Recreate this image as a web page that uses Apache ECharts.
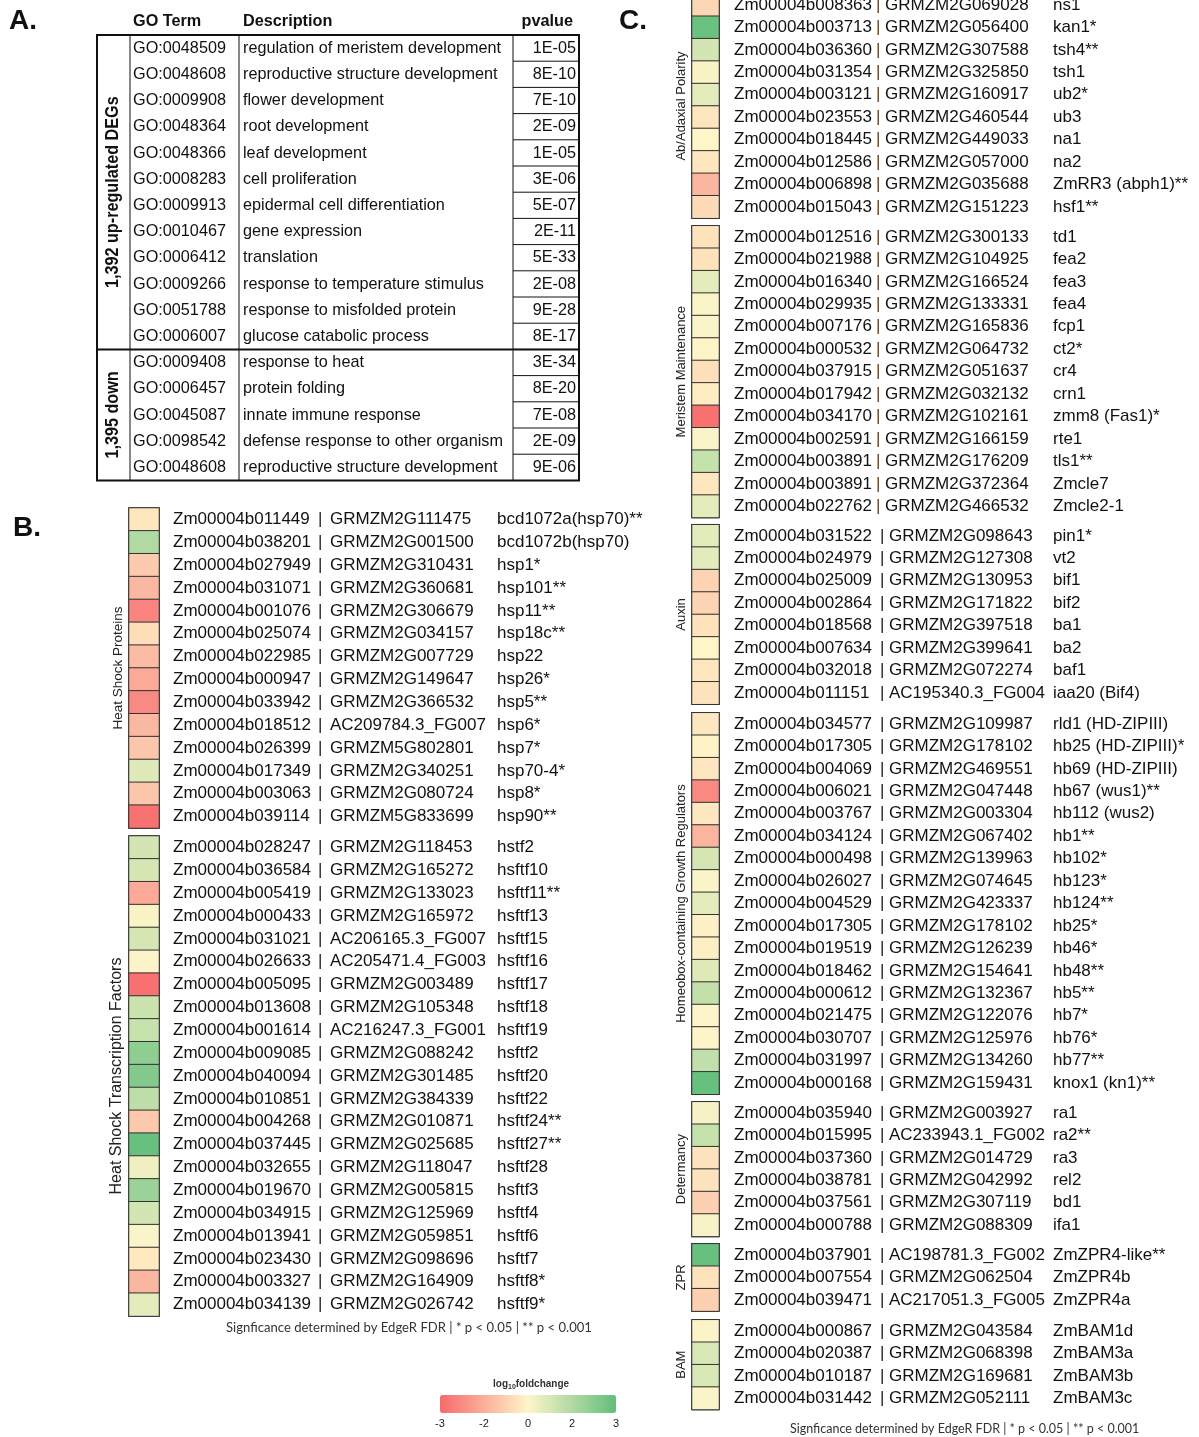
<!DOCTYPE html>
<html>
<head>
<meta charset="utf-8">
<title>GO terms and heat map of maize gene expression</title>
<script src="https://cdn.jsdelivr.net/npm/echarts@6/dist/echarts.min.js"></script>
<style>
  html, body { margin: 0; padding: 0; background: #fff; }
  #chart { width: 1199px; height: 1437px; }
</style>
</head>
<body>
<div id="chart"></div>
<script>
// ---- Panel A: GO enrichment table ----
const goTerms = [
  "GO:0048509", "GO:0048608", "GO:0009908", "GO:0048364", "GO:0048366", "GO:0008283",
  "GO:0009913", "GO:0010467", "GO:0006412", "GO:0009266", "GO:0051788", "GO:0006007",
  "GO:0009408", "GO:0006457", "GO:0045087", "GO:0098542", "GO:0048608",
];
const goDescriptions = [
  "regulation of meristem development", "reproductive structure development", "flower development",
  "root development", "leaf development", "cell proliferation", "epidermal cell differentiation",
  "gene expression", "translation", "response to temperature stimulus", "response to misfolded protein",
  "glucose catabolic process", "response to heat", "protein folding", "innate immune response",
  "defense response to other organism", "reproductive structure development",
];
const goPvalues = [
  "1E-05", "8E-10", "7E-10", "2E-09", "1E-05", "3E-06", "5E-07", "2E-11", "5E-33",
  "2E-08", "9E-28", "8E-17", "3E-34", "8E-20", "7E-08", "2E-09", "9E-06",
];
const goGroups = [["1,392 up-regulated DEGs", 12], ["1,395 down", 5]];

// ---- Panel B: heat shock genes [id, locus, name, log10 fold change] ----
const hspRows = [
  ["Zm00004b011449", "GRMZM2G111475", "bcd1072a(hsp70)**", -0.35],
  ["Zm00004b038201", "GRMZM2G001500", "bcd1072b(hsp70)", 1.5],
  ["Zm00004b027949", "GRMZM2G310431", "hsp1*", -0.9],
  ["Zm00004b031071", "GRMZM2G360681", "hsp101**", -1.3],
  ["Zm00004b001076", "GRMZM2G306679", "hsp11**", -2.4],
  ["Zm00004b025074", "GRMZM2G034157", "hsp18c**", -0.5],
  ["Zm00004b022985", "GRMZM2G007729", "hsp22", -1.25],
  ["Zm00004b000947", "GRMZM2G149647", "hsp26*", -1.6],
  ["Zm00004b033942", "GRMZM2G366532", "hsp5**", -2.3],
  ["Zm00004b018512", "AC209784.3_FG007", "hsp6*", -1.3],
  ["Zm00004b026399", "GRMZM5G802801", "hsp7*", -1.0],
  ["Zm00004b017349", "GRMZM2G340251", "hsp70-4*", 0.6],
  ["Zm00004b003063", "GRMZM2G080724", "hsp8*", -1.0],
  ["Zm00004b039114", "GRMZM5G833699", "hsp90**", -2.8],
];
const hsfRows = [
  ["Zm00004b028247", "GRMZM2G118453", "hstf2", 0.85],
  ["Zm00004b036584", "GRMZM2G165272", "hsftf10", 0.8],
  ["Zm00004b005419", "GRMZM2G133023", "hsftf11**", -1.6],
  ["Zm00004b000433", "GRMZM2G165972", "hsftf13", 0.1],
  ["Zm00004b031021", "AC206165.3_FG007", "hsftf15", 0.8],
  ["Zm00004b026633", "AC205471.4_FG003", "hsftf16", 0.03],
  ["Zm00004b005095", "GRMZM2G003489", "hsftf17", -2.85],
  ["Zm00004b013608", "GRMZM2G105348", "hsftf18", 1.0],
  ["Zm00004b001614", "AC216247.3_FG001", "hsftf19", 1.05],
  ["Zm00004b009085", "GRMZM2G088242", "hsftf2", 2.15],
  ["Zm00004b040094", "GRMZM2G301485", "hsftf20", 2.4],
  ["Zm00004b010851", "GRMZM2G384339", "hsftf22", 1.25],
  ["Zm00004b004268", "GRMZM2G010871", "hsftf24**", -0.95],
  ["Zm00004b037445", "GRMZM2G025685", "hsftf27**", 2.9],
  ["Zm00004b032655", "GRMZM2G118047", "hsftf28", 0.3],
  ["Zm00004b019670", "GRMZM2G005815", "hsftf3", 1.9],
  ["Zm00004b034915", "GRMZM2G125969", "hsftf4", 0.85],
  ["Zm00004b013941", "GRMZM2G059851", "hsftf6", 0.05],
  ["Zm00004b023430", "GRMZM2G098696", "hsftf7", -0.25],
  ["Zm00004b003327", "GRMZM2G164909", "hsftf8*", -1.35],
  ["Zm00004b034139", "GRMZM2G026742", "hsftf9*", 0.5],
];

// ---- Panel C: developmental regulators ----
const polarityRows = [
  ["Zm00004b008363", "GRMZM2G069028", "ns1", -0.65],
  ["Zm00004b003713", "GRMZM2G056400", "kan1*", 2.85],
  ["Zm00004b036360", "GRMZM2G307588", "tsh4**", 0.85],
  ["Zm00004b031354", "GRMZM2G325850", "tsh1", 0.1],
  ["Zm00004b003121", "GRMZM2G160917", "ub2*", 0.5],
  ["Zm00004b023553", "GRMZM2G460544", "ub3", -0.35],
  ["Zm00004b018445", "GRMZM2G449033", "na1", 0.0],
  ["Zm00004b012586", "GRMZM2G057000", "na2", -0.35],
  ["Zm00004b006898", "GRMZM2G035688", "ZmRR3 (abph1)**", -1.35],
  ["Zm00004b015043", "GRMZM2G151223", "hsf1**", -0.55],
];
const meristemRows = [
  ["Zm00004b012516", "GRMZM2G300133", "td1", -0.4],
  ["Zm00004b021988", "GRMZM2G104925", "fea2", -0.4],
  ["Zm00004b016340", "GRMZM2G166524", "fea3", 0.5],
  ["Zm00004b029935", "GRMZM2G133331", "fea4", 0.05],
  ["Zm00004b007176", "GRMZM2G165836", "fcp1", 0.05],
  ["Zm00004b000532", "GRMZM2G064732", "ct2*", 0.02],
  ["Zm00004b037915", "GRMZM2G051637", "cr4", -0.45],
  ["Zm00004b017942", "GRMZM2G032132", "crn1", -0.2],
  ["Zm00004b034170", "GRMZM2G102161", "zmm8 (Fas1)*", -2.85],
  ["Zm00004b002591", "GRMZM2G166159", "rte1", 0.05],
  ["Zm00004b003891", "GRMZM2G176209", "tls1**", 1.1],
  ["Zm00004b003891", "GRMZM2G372364", "Zmcle7", -0.35],
  ["Zm00004b022762", "GRMZM2G466532", "Zmcle2-1", 0.5],
];
const auxinRows = [
  ["Zm00004b031522", "GRMZM2G098643", "pin1*", 0.55],
  ["Zm00004b024979", "GRMZM2G127308", "vt2", 0.55],
  ["Zm00004b025009", "GRMZM2G130953", "bif1", -0.7],
  ["Zm00004b002864", "GRMZM2G171822", "bif2", -0.7],
  ["Zm00004b018568", "GRMZM2G397518", "ba1", -0.4],
  ["Zm00004b007634", "GRMZM2G399641", "ba2", 0.0],
  ["Zm00004b032018", "GRMZM2G072274", "baf1", -0.35],
  ["Zm00004b011151", "AC195340.3_FG004", "iaa20 (Bif4)", -0.38],
];
const homeoboxRows = [
  ["Zm00004b034577", "GRMZM2G109987", "rld1 (HD-ZIPIII)", -0.3],
  ["Zm00004b017305", "GRMZM2G178102", "hb25 (HD-ZIPIII)*", -0.05],
  ["Zm00004b004069", "GRMZM2G469551", "hb69 (HD-ZIPIII)", -0.32],
  ["Zm00004b006021", "GRMZM2G047448", "hb67 (wus1)**", -2.3],
  ["Zm00004b003767", "GRMZM2G003304", "hb112 (wus2)", -0.3],
  ["Zm00004b034124", "GRMZM2G067402", "hb1**", -1.4],
  ["Zm00004b000498", "GRMZM2G139963", "hb102*", 0.8],
  ["Zm00004b026027", "GRMZM2G074645", "hb123*", 0.05],
  ["Zm00004b004529", "GRMZM2G423337", "hb124**", 0.5],
  ["Zm00004b017305", "GRMZM2G178102", "hb25*", -0.1],
  ["Zm00004b019519", "GRMZM2G126239", "hb46*", -0.15],
  ["Zm00004b018462", "GRMZM2G154641", "hb48**", 0.6],
  ["Zm00004b000612", "GRMZM2G132367", "hb5**", 1.15],
  ["Zm00004b021475", "GRMZM2G122076", "hb7*", 0.01],
  ["Zm00004b030707", "GRMZM2G125976", "hb76*", 0.01],
  ["Zm00004b031997", "GRMZM2G134260", "hb77**", 1.2],
  ["Zm00004b000168", "GRMZM2G159431", "knox1 (kn1)**", 2.9],
];
const determancyRows = [
  ["Zm00004b035940", "GRMZM2G003927", "ra1", 0.15],
  ["Zm00004b015995", "AC233943.1_FG002", "ra2**", 1.1],
  ["Zm00004b037360", "GRMZM2G014729", "ra3", -0.38],
  ["Zm00004b038781", "GRMZM2G042992", "rel2", -0.38],
  ["Zm00004b037561", "GRMZM2G307119", "bd1", -0.8],
  ["Zm00004b000788", "GRMZM2G088309", "ifa1", 0.12],
];
const zprRows = [
  ["Zm00004b037901", "AC198781.3_FG002", "ZmZPR4-like**", 2.9],
  ["Zm00004b007554", "GRMZM2G062504", "ZmZPR4b", -0.4],
  ["Zm00004b039471", "AC217051.3_FG005", "ZmZPR4a", -0.8],
];
const bamRows = [
  ["Zm00004b000867", "GRMZM2G043584", "ZmBAM1d", 0.05],
  ["Zm00004b020387", "GRMZM2G068398", "ZmBAM3a", 0.75],
  ["Zm00004b010187", "GRMZM2G169681", "ZmBAM3b", 0.75],
  ["Zm00004b031442", "GRMZM2G052111", "ZmBAM3c", 0.05],
];

const legendTicks = ["-3", "-2", "0", "2", "3"];
const footnote = "Signficance determined by EdgeR FDR | * p < 0.05 | ** p < 0.001";

const ink = "#111";
const geneFont = "'Liberation Sans', Arial, sans-serif";
const tableFont = "'Liberation Sans', Arial, sans-serif";

const chart = echarts.init(document.getElementById("chart"));
const grids = [];
const xAxes = [];
const yAxes = [];
const series = [];

// one heat map column with its labels
function addHeatmap(rows, name, box) {
  const gi = grids.length;
  const names = rows.map((r) => r[2]);
  grids.push({
    left: box.left,
    top: box.top,
    width: box.width,
    height: rows.length * box.rowH,
    outerBoundsMode: "none",
    show: true,
    borderColor: "#222",
    borderWidth: 1.5,
  });
  xAxes.push({ type: "category", gridIndex: gi, data: ["fc"], show: false });
  // every token left aligned: a centred token would float the rest of the line
  const txt = { fontSize: 17, fontFamily: geneFont, color: ink, align: "left" };
  yAxes.push({
    type: "category",
    gridIndex: gi,
    data: names,
    inverse: true,
    position: "right",
    axisLine: { show: false },
    axisTick: { show: false },
    axisLabel: {
      interval: 0,
      margin: box.margin,
      fontSize: 17,
      formatter: (v, i) => `{id|${rows[i][0]}}{p||}{g|${rows[i][1]}}{n|${rows[i][2]}}`,
      rich: {
        id: { ...txt, width: box.idW },
        p: { ...txt, width: box.pW, color: box.pipeColor },
        g: { ...txt, width: box.gW },
        n: { ...txt },
      },
    },
  });
  yAxes.push({
    type: "category",
    gridIndex: gi,
    data: names,
    inverse: true,
    position: "left",
    axisLine: { show: false },
    axisTick: { show: false },
    axisLabel: { show: false },
    name: name,
    nameLocation: "middle",
    nameRotate: 90,
    nameGap: box.nameGap,
    nameTextStyle: { fontSize: box.nameSize, fontFamily: geneFont, color: "#222" },
  });
  series.push({
    type: "heatmap",
    xAxisIndex: gi,
    yAxisIndex: yAxes.length - 2,
    data: rows.map((r, i) => [0, i, r[3]]),
    itemStyle: { borderColor: "#333", borderWidth: 1 },
    emphasis: { disabled: true },
  });
}

// Panel B
const boxB = { left: 129, width: 30, rowH: 22.86, margin: 14, idW: 145, pW: 12, gW: 167, pipeColor: "#223", nameGap: 4 };
addHeatmap(hspRows, "Heat Shock Proteins", { ...boxB, top: 508, nameSize: 13.5 });
addHeatmap(hsfRows, "Heat Shock Transcription Factors", { ...boxB, top: 836, nameSize: 16 });

// Panel C
const boxC = { left: 692, width: 27, rowH: 22.44, margin: 15, idW: 142, pW: 9, gW: 168, pipeColor: "#6b3f12", nameGap: 4, nameSize: 13 };
const boxC2 = { ...boxC, idW: 146, pW: 9, gW: 164, pipeColor: "#222" };
addHeatmap(polarityRows, "Ab/Adaxial Polarity", { ...boxC, top: -6.2 });
addHeatmap(meristemRows, "Meristem Maintenance", { ...boxC, top: 225.8 });
addHeatmap(auxinRows, "Auxin", { ...boxC2, top: 524.7 });
addHeatmap(homeoboxRows, "Homeobox-containing Growth Regulators", { ...boxC2, top: 712.8 });
addHeatmap(determancyRows, "Determancy", { ...boxC2, top: 1101.8 });
addHeatmap(zprRows, "ZPR", { ...boxC2, top: 1243.8 });
addHeatmap(bamRows, "BAM", { ...boxC2, top: 1319.8 });

// tick labels under the colour legend
const tickGrid = grids.length;
grids.push({ left: 440, top: 1413, width: 176, height: 1, outerBoundsMode: "none" });
xAxes.push({
  type: "category",
  gridIndex: tickGrid,
  data: legendTicks,
  boundaryGap: false,
  axisLine: { show: false },
  axisTick: { show: false },
  axisLabel: { margin: 4, fontSize: 11, fontFamily: geneFont, color: "#222", interval: 0 },
});
yAxes.push({ type: "value", gridIndex: tickGrid, show: false });

// Panel A table drawn as graphic elements
const tbl = { left: 97, right: 579, top: 35, rowH: 26.2, cols: [130, 239, 513] };
const tblBottom = tbl.top + goTerms.length * tbl.rowH;
const graphics = [];

// the original uses a condensed face, so squeeze the text a little
function tableText(text, x, y, align, size, bold, rot, squeeze) {
  graphics.push({
    type: "text",
    x: x,
    y: y,
    rotation: rot || 0,
    scaleX: squeeze || 0.955,
    style: {
      text: text,
      fontSize: size,
      fontFamily: tableFont,
      fontWeight: bold ? "bold" : "normal",
      fill: ink,
      align: align,
      textAlign: align,
      verticalAlign: "middle",
      textVerticalAlign: "middle",
    },
  });
}
function tableLine(x1, y1, x2, y2, w) {
  graphics.push({ type: "line", shape: { x1, y1, x2, y2 }, style: { stroke: ink, lineWidth: w } });
}

tableText("GO Term", 133, 21, "left", 17, true);
tableText("Description", 243, 21, "left", 17, true);
tableText("pvalue", 573, 21, "right", 17, true);

goTerms.forEach((term, i) => {
  const y = tbl.top + (i + 0.5) * tbl.rowH;
  tableText(term, 133, y, "left", 17);
  tableText(goDescriptions[i], 243, y, "left", 17);
  tableText(goPvalues[i], 576, y, "right", 17);
  if (i > 0) tableLine(tbl.cols[2], tbl.top + i * tbl.rowH, tbl.right, tbl.top + i * tbl.rowH, 1);
});
tbl.cols.forEach((x) => tableLine(x, tbl.top, x, tblBottom, 1));

let start = 0;
goGroups.forEach(([label, count], gi) => {
  const yMid = tbl.top + (start + count / 2) * tbl.rowH;
  tableText(label, 113.5, yMid, "center", 18, true, Math.PI / 2, 0.9);
  start += count;
  if (gi < goGroups.length - 1) {
    tableLine(tbl.left, tbl.top + start * tbl.rowH, tbl.right, tbl.top + start * tbl.rowH, 2);
  }
});
graphics.push({
  type: "rect",
  shape: { x: tbl.left, y: tbl.top, width: tbl.right - tbl.left, height: tblBottom - tbl.top },
  style: { fill: "none", stroke: ink, lineWidth: 2 },
});

const panelLabel = { fontSize: 28, fontWeight: "bold", fontFamily: geneFont, color: ink };
const noteStyle = { fontSize: 12.5, fontWeight: "normal", fontFamily: "Lato, 'Open Sans', sans-serif", color: "#333" };

const option = {
  animation: false,
  backgroundColor: "#fff",
  title: [
    { text: "A.", left: 9, top: 7, padding: 0, textStyle: panelLabel },
    { text: "B.", left: 13, top: 514, padding: 0, textStyle: panelLabel },
    { text: "C.", left: 619, top: 7, padding: 0, textStyle: panelLabel },
    { text: footnote, left: 226, top: 1321, padding: 0, textStyle: { ...noteStyle, fontSize: 13.1 } },
    { text: footnote, left: 790, top: 1422, padding: 0, textStyle: noteStyle },
    {
      text: "{a|log}{s|10}{a|foldchange}",
      left: 493,
      top: 1378,
      padding: 0,
      textStyle: {
        rich: {
          a: { fontSize: 10, fontFamily: geneFont, color: "#333", lineHeight: 13 },
          s: { fontSize: 7, fontFamily: geneFont, color: "#333", lineHeight: 13, verticalAlign: "bottom" },
        },
      },
    },
  ],
  grid: grids,
  xAxis: xAxes,
  yAxis: yAxes,
  visualMap: {
    type: "continuous",
    min: -3,
    max: 3,
    orient: "horizontal",
    left: 440,
    top: 1395,
    padding: 0,
    itemWidth: 18,
    itemHeight: 176,
    calculable: false,
    text: null,
    inRange: { color: ["#F8696B", "#FEF5C9", "#63BE7B"] },
    seriesIndex: series.map((s, i) => i),
  },
  graphic: { elements: graphics },
  series: series,
};

chart.setOption(option);
</script>
</body>
</html>
